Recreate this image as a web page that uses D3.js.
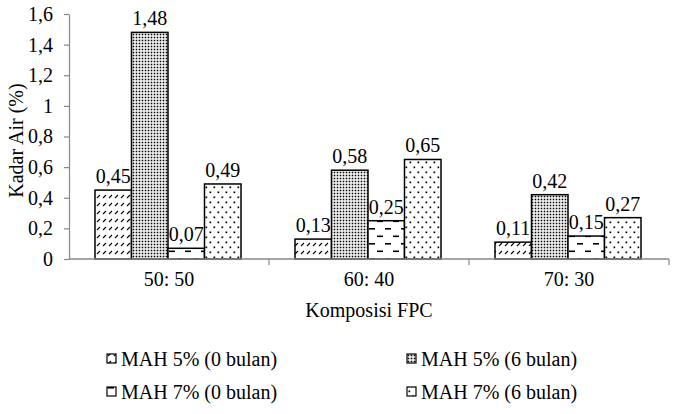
<!DOCTYPE html>
<html><head><meta charset="utf-8">
<script src="https://cdn.jsdelivr.net/npm/d3@7"></script>
<style>
html,body{margin:0;padding:0;background:#fff;}
</style></head>
<body><svg id="c" width="683" height="414"></svg>
<script>
const categories = ["50: 50", "60: 40", "70: 30"];
const seriesNames = ["MAH 5% (0 bulan)", "MAH 5% (6 bulan)", "MAH 7% (0 bulan)", "MAH 7% (6 bulan)"];
const mah5_0 = [0.45, 0.13, 0.11];
const mah5_6 = [1.48, 0.58, 0.42];
const mah7_0 = [0.07, 0.25, 0.15];
const mah7_6 = [0.49, 0.65, 0.27];
const yTicks = [0, 0.2, 0.4, 0.6, 0.8, 1, 1.2, 1.4, 1.6];
const xTitle = "Komposisi FPC";
const yTitle = "Kadar Air (%)";

(function(){
const seriesValues = [mah5_0, mah5_6, mah7_0, mah7_6];
const svg = d3.select("#c");
const pl = 69, pr = 669, pt = 14, pb = 259;
const FS = 20;
const FF = "'Liberation Serif', 'Times New Roman', 'DejaVu Serif', serif";

const defs = svg.append("defs");
const p0 = defs.append("pattern").attr("id","p0").attr("patternUnits","userSpaceOnUse").attr("width",6).attr("height",8);
p0.append("rect").attr("width",6).attr("height",8).attr("fill","#fff");
p0.append("line").attr("x1",1).attr("y1",6).attr("x2",4).attr("y2",3).attr("stroke","#000").attr("stroke-width",1.1);
const p1 = defs.append("pattern").attr("id","p1").attr("patternUnits","userSpaceOnUse").attr("width",3).attr("height",3);
p1.append("rect").attr("width",3).attr("height",3).attr("fill","#fff");
p1.append("rect").attr("x",0.7).attr("y",0.7).attr("width",1.6).attr("height",1.6).attr("fill","#000");
const p2 = defs.append("pattern").attr("id","p2").attr("patternUnits","userSpaceOnUse").attr("width",16).attr("height",15);
p2.append("rect").attr("width",16).attr("height",15).attr("fill","#fff");
p2.append("rect").attr("x",1).attr("y",3).attr("width",6).attr("height",1.6).attr("fill","#000");
p2.append("rect").attr("x",9).attr("y",10.5).attr("width",6).attr("height",1.6).attr("fill","#000");
const p3 = defs.append("pattern").attr("id","p3").attr("patternUnits","userSpaceOnUse").attr("width",8).attr("height",10);
p3.append("rect").attr("width",8).attr("height",10).attr("fill","#fff");
p3.append("rect").attr("x",1.5).attr("y",1.5).attr("width",1.7).attr("height",1.7).attr("fill","#000");
p3.append("rect").attr("x",5.5).attr("y",6.5).attr("width",1.7).attr("height",1.7).attr("fill","#000");

const fills = ["url(#p0)","url(#p1)","url(#p2)","url(#p3)"];

const x = d3.scaleBand().domain(categories).range([pl, pr]).paddingInner(0).paddingOuter(0);
const xs = d3.scaleBand().domain(d3.range(seriesNames.length)).range([26, 172]).padding(0);
const y = d3.scaleLinear().domain([0, 1.6]).range([pb, pt]);

const fmtTick = d => d3.format("~g")(d).replace(".", ",");
const fmtVal = d => d3.format(".2f")(d).replace(".", ",");

const ya = svg.append("g").attr("transform",`translate(${pl},0)`)
  .call(d3.axisLeft(y).tickValues(yTicks).tickSize(5).tickSizeOuter(0).tickPadding(11).tickFormat(fmtTick));
ya.attr("font-family", FF).attr("font-size", FS);
ya.select(".domain").attr("stroke","#888").attr("stroke-width",1.2);
ya.selectAll(".tick line").attr("stroke","#888").attr("stroke-width",1.2);
ya.selectAll(".tick text").attr("fill","#000");

const rows = [];
categories.forEach((c, i) => seriesValues.forEach((vals, s) => rows.push({c, s, v: vals[i]})));
svg.append("g").selectAll("rect").data(rows).join("rect")
  .attr("x", d => x(d.c) + xs(d.s))
  .attr("y", d => y(d.v))
  .attr("width", xs.bandwidth())
  .attr("height", d => y(0) - y(d.v))
  .attr("fill", d => fills[d.s])
  .attr("stroke", "#000").attr("stroke-width", 1.5);

svg.append("g").attr("font-family", FF).attr("font-size", FS)
  .selectAll("text").data(rows).join("text")
  .attr("x", d => x(d.c) + xs(d.s) + xs.bandwidth()/2)
  .attr("y", d => y(d.v) - 7)
  .attr("text-anchor","middle")
  .text(d => fmtVal(d.v));

const xa = svg.append("g").attr("transform",`translate(0,${pb})`)
  .call(d3.axisBottom(x).tickSize(0).tickPadding(13));
xa.attr("font-family", FF).attr("font-size", FS);
xa.select(".domain").remove();
xa.selectAll(".tick text").attr("fill","#000");
svg.append("line").attr("x1",pl).attr("x2",pr).attr("y1",pb).attr("y2",pb).attr("stroke","#888").attr("stroke-width",1.5);
svg.append("g").selectAll("line").data(categories).join("line")
  .attr("x1", d => x(d) + x.bandwidth()).attr("x2", d => x(d) + x.bandwidth())
  .attr("y1", pb).attr("y2", pb + 6).attr("stroke","#888").attr("stroke-width",1.2);

svg.append("text").attr("font-family", FF).attr("x",(pl+pr)/2).attr("y",317).attr("text-anchor","middle").attr("font-size",FS).text(xTitle);
svg.append("text").attr("font-family", FF).attr("transform",`translate(23,${(pt+pb)/2 + 4}) rotate(-90)`).attr("text-anchor","middle").attr("font-size",FS).text(yTitle);

const legPos = [[107,366],[407,366],[107,399],[407,399]];
const lg = svg.append("g").attr("font-family", FF).selectAll("g").data(seriesNames).join("g")
  .attr("transform",(d,i)=>`translate(${legPos[i][0]},${legPos[i][1]})`);
lg.append("rect").attr("x",0).attr("y",-12).attr("width",9).attr("height",9)
  .attr("fill",(d,i)=>fills[i]).attr("stroke","#000").attr("stroke-width",1.2);
lg.append("text").attr("x",14).attr("y",0).attr("font-size",FS).text(d=>d);
})();
</script></body></html>
